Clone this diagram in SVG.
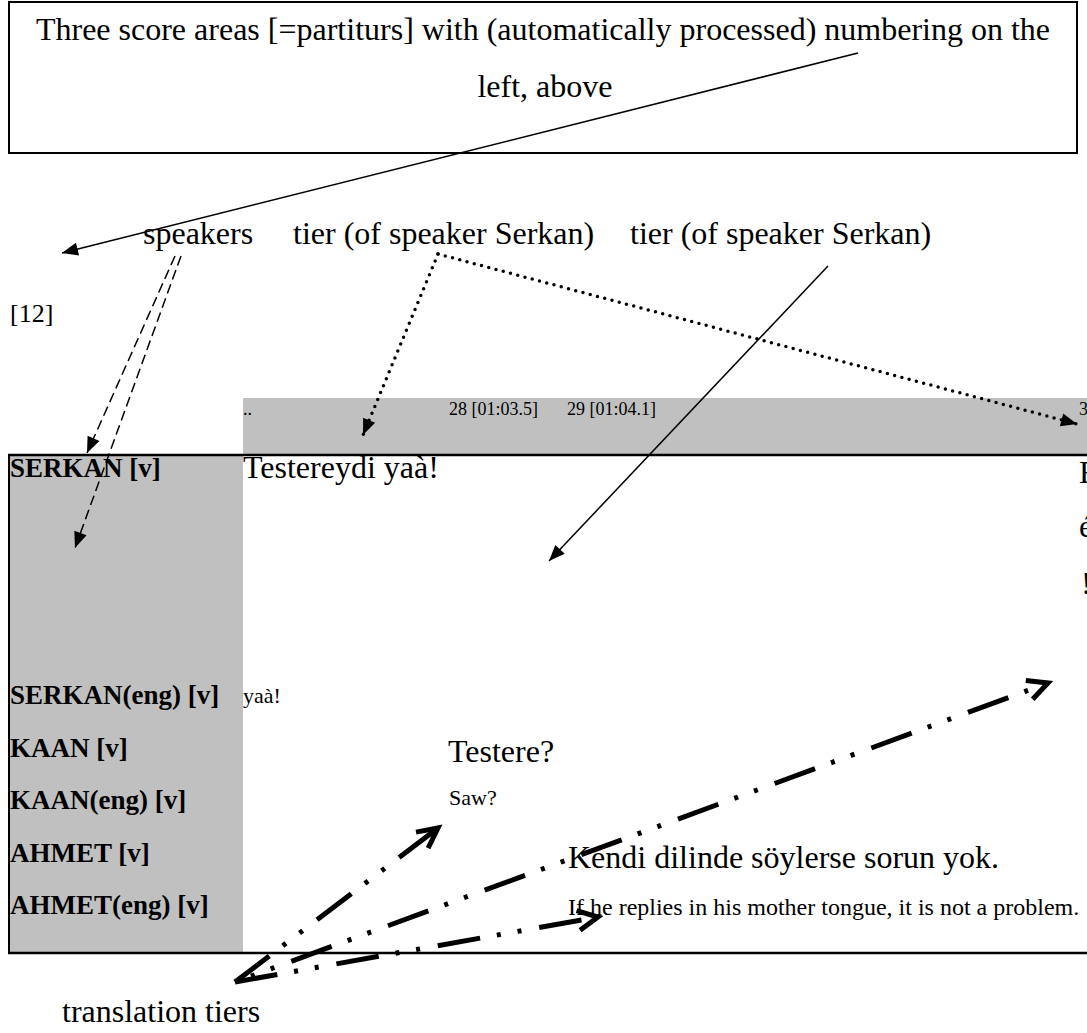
<svg xmlns="http://www.w3.org/2000/svg" width="1087" height="1033" viewBox="0 0 1087 1033">
<style>
text{font-family:"Liberation Serif","Times New Roman",serif;fill:#000}
.big{font-size:32px}
.lbl{font-size:27px;font-weight:bold}
.sm{font-size:22px}
.tl{font-size:18px}
.thin{fill:none;stroke:#000;stroke-width:1.5}
.dash{fill:none;stroke:#000;stroke-width:1.5;stroke-dasharray:10 5}
.dot{fill:none;stroke:#000;stroke-width:3.5;stroke-linecap:round;stroke-dasharray:0 7.5}
.dd{fill:none;stroke:#000;stroke-width:5;stroke-dasharray:43 17 4 17 4 18}
</style>
<defs>
<marker id="tri" markerUnits="userSpaceOnUse" markerWidth="18" markerHeight="14" refX="16" refY="6.5" orient="auto" overflow="visible">
<path d="M0,0 L16,6.5 L0,13 z" fill="#000" stroke="none"/>
</marker>
<marker id="open" markerUnits="userSpaceOnUse" markerWidth="30" markerHeight="30" refX="20" refY="10" orient="auto" overflow="visible">
<path d="M0,0 L20,10 L0,20" fill="none" stroke="#000" stroke-width="5" stroke-dasharray="none"/>
</marker>
</defs>

<g id="title-box">
<rect x="9" y="2" width="1068" height="151" fill="#fff" stroke="#000" stroke-width="2"/>
<text class="big" x="543" y="40" text-anchor="middle">Three score areas [=partiturs] with (automatically processed) numbering on the</text>
<text class="big" x="545" y="97" text-anchor="middle">left, above</text>
</g>

<g id="annotations">
<text class="big" x="143" y="244">speakers</text>
<text class="big" x="293" y="244">tier (of speaker Serkan)</text>
<text class="big" x="630" y="244">tier (of speaker Serkan)</text>
<text class="big" x="62" y="1022">translation tiers</text>
</g>

<g id="number">
<text x="10" y="322" font-size="26">[12]</text>
</g>

<g id="timeline">
<rect x="243" y="398" width="844" height="57" fill="#c0c0c0"/>
<text class="tl" x="243" y="415">..</text>
<text class="tl" x="449" y="415">28 [01:03.5]</text>
<text class="tl" x="567" y="415">29 [01:04.1]</text>
<text class="tl" x="1079" y="415">3</text>
</g>

<g id="score">
<rect x="9" y="455" width="234" height="498" fill="#c0c0c0"/>
<line x1="8" y1="455" x2="1087" y2="455" stroke="#000" stroke-width="2.5"/>
<line x1="8" y1="953" x2="1087" y2="953" stroke="#000" stroke-width="2.5"/>
<line x1="9" y1="454" x2="9" y2="954" stroke="#000" stroke-width="2"/>
</g>

<g id="row-serkan">
<text class="lbl" x="10" y="477">SERKAN [v]</text>
<text class="big" x="243" y="478">Testereydi yaà!</text>
<text class="big" x="1079" y="483">E</text>
<text class="big" x="1079" y="537">é</text>
<text class="big" x="1081" y="594">!</text>
</g>
<g id="row-serkan-eng">
<text class="lbl" x="10" y="704">SERKAN(eng) [v]</text>
<text class="sm" x="243" y="703">yaà!</text>
</g>
<g id="row-kaan">
<text class="lbl" x="10" y="757">KAAN [v]</text>
<text class="big" x="448" y="762">Testere?</text>
</g>
<g id="row-kaan-eng">
<text class="lbl" x="10" y="809">KAAN(eng) [v]</text>
<text class="sm" x="449" y="805">Saw?</text>
</g>
<g id="row-ahmet">
<text class="lbl" x="10" y="862">AHMET [v]</text>
<text class="big" x="568" y="868">Kendi dilinde söylerse sorun yok.</text>
</g>
<g id="row-ahmet-eng">
<text class="lbl" x="10" y="914">AHMET(eng) [v]</text>
<text x="568" y="915" font-size="24">If he replies in his mother tongue, it is not a problem.</text>
</g>

<g id="connectors">
<line class="thin" x1="858" y1="53" x2="62" y2="253" marker-end="url(#tri)"/>
<line class="dash" x1="175" y1="256" x2="87" y2="453" marker-end="url(#tri)"/>
<line class="dash" x1="181" y1="256" x2="75" y2="548" marker-end="url(#tri)"/>
<line class="dot" x1="438" y1="254" x2="363" y2="435" marker-end="url(#tri)"/>
<line class="dot" x1="438" y1="254" x2="1077" y2="424" marker-end="url(#tri)"/>
<line class="thin" x1="828" y1="266" x2="549" y2="561" marker-end="url(#tri)"/>
<line class="dd" x1="235" y1="982" x2="438" y2="828" marker-end="url(#open)"/>
<line class="dd" x1="235" y1="982" x2="1048" y2="683" stroke-dashoffset="43" marker-end="url(#open)"/>
<line class="dd" x1="235" y1="982" x2="598" y2="917" marker-end="url(#open)"/>
</g>
</svg>
